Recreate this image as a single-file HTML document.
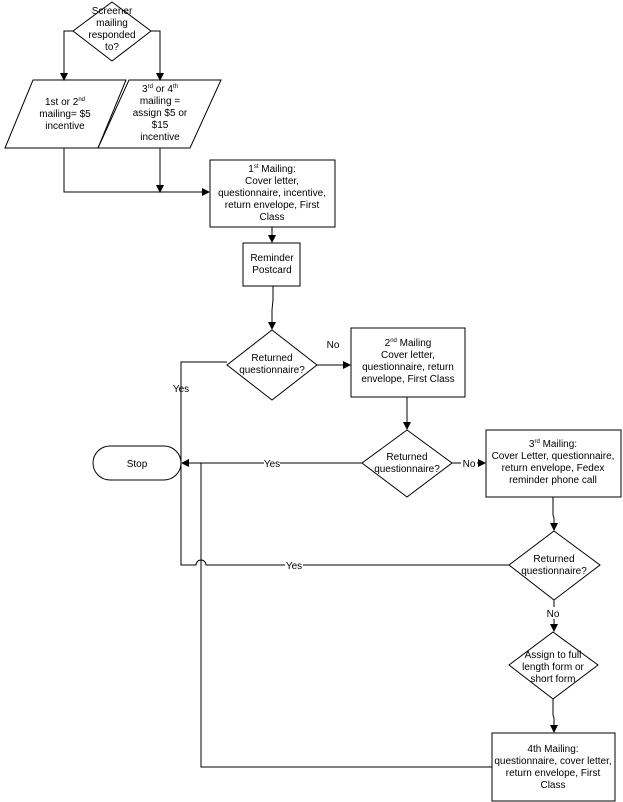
<!DOCTYPE html>
<html><head><style>body{margin:0;background:#fff}svg{display:block}text{font-family:"Liberation Sans",sans-serif;font-size:10px;fill:#000}</style></head>
<body>
<svg width="623" height="802" viewBox="0 0 623 802" xmlns="http://www.w3.org/2000/svg">
<defs><marker id="a" markerWidth="8" markerHeight="8" refX="7" refY="4" orient="auto" markerUnits="userSpaceOnUse"><path d="M0,0 L8,4 L0,8z" fill="#000"/></marker></defs>
<g fill="none" stroke="#000" stroke-width="1">
<polygon points="112,2 151,31 112,61 73,31" fill="#fff"/>
<polyline points="73,31 64,31 64,80" marker-end="url(#a)"/>
<polyline points="151,31 160,31 160,80" marker-end="url(#a)"/>
<polygon points="33,80 126,80 98,148 5,148"/>
<polygon points="129,80 221,80 190,148 98,148"/>
<polyline points="64,148 64,192 209,192" marker-end="url(#a)"/>
<line x1="160" y1="148" x2="160" y2="192" marker-end="url(#a)"/>
<rect x="210" y="160" width="125" height="67"/>
<line x1="272" y1="227" x2="272" y2="242" marker-end="url(#a)"/>
<rect x="243" y="243" width="57" height="43"/>
<polyline points="273,286 273,300 272,310 272,329" marker-end="url(#a)"/>
<polygon points="272,330 317,365 272,400 227,365"/>
<line x1="317" y1="365" x2="350" y2="365" marker-end="url(#a)"/>
<rect x="351" y="328" width="114" height="69"/>
<polyline points="227,362 181,362 181,462"/>
<line x1="407" y1="397" x2="407" y2="429" marker-end="url(#a)"/>
<polygon points="407,430 452,463 407,497 362,463"/>
<line x1="362" y1="463" x2="182" y2="463" marker-end="url(#a)"/>
<line x1="452" y1="463" x2="485" y2="463" marker-end="url(#a)"/>
<rect x="486" y="430" width="135" height="67"/>
<path d="M110,446 H164 A17,17 0 0 1 164,480 H110 A17,17 0 0 1 110,446 Z"/>
<polyline points="553,497 553,515 554,518 554,530" marker-end="url(#a)"/>
<polygon points="554,531 600,565 554,600 509,565"/>
<path d="M509,565 H206 A5,5 0 0 0 196,565 H181 V464"/>
<line x1="554" y1="600" x2="554" y2="631" marker-end="url(#a)"/>
<polygon points="553,632 598,665 553,699 509,665"/>
<polyline points="553,699 553,715 554,718 554,732" marker-end="url(#a)"/>
<rect x="492" y="733" width="123" height="68"/>
<polyline points="492,767 201,767 201,463"/>
</g>
<rect x="264" y="457" width="16" height="12" fill="#fff"/>
<rect x="285" y="559" width="18" height="12" fill="#fff"/>
<rect x="461" y="457" width="16" height="12" fill="#fff"/>
<rect x="545" y="607" width="16" height="12" fill="#fff"/>
<g text-anchor="middle">
<text x="112" y="14">Screener</text><text x="112" y="26">mailing</text><text x="112" y="38">responded</text><text x="112" y="50">to?</text>
<text x="65" y="105">1st or 2<tspan font-size="6" dy="-4">nd</tspan></text><text x="65" y="117">mailing= $5</text><text x="65" y="129">incentive</text>
<text x="160" y="92">3<tspan font-size="6" dy="-4">rd</tspan><tspan dy="4"> or 4</tspan><tspan font-size="6" dy="-4">th</tspan></text><text x="160" y="104">mailing =</text><text x="160" y="116">assign $5 or</text><text x="160" y="128">$15</text><text x="160" y="140">incentive</text>
<text x="272" y="172">1<tspan font-size="6" dy="-4">st</tspan><tspan dy="4"> Mailing:</tspan></text><text x="272" y="184">Cover letter,</text><text x="272" y="196">questionnaire, incentive,</text><text x="272" y="208">return envelope, First</text><text x="272" y="220">Class</text>
<text x="272" y="261">Reminder</text><text x="272" y="273">Postcard</text>
<text x="272" y="361">Returned</text><text x="272" y="373">questionnaire?</text>
<text x="333" y="348">No</text>
<text x="408" y="346">2<tspan font-size="6" dy="-4">nd</tspan><tspan dy="4"> Mailing</tspan></text><text x="408" y="358">Cover letter,</text><text x="408" y="370">questionnaire, return</text><text x="408" y="382">envelope, First Class</text>
<text x="181" y="392">Yes</text>
<text x="407" y="460">Returned</text><text x="407" y="472">questionnaire?</text>
<text x="272" y="467">Yes</text>
<text x="469" y="467">No</text>
<text x="553" y="447">3<tspan font-size="6" dy="-4">rd</tspan><tspan dy="4"> Mailing:</tspan></text><text x="553" y="459">Cover Letter, questionnaire,</text><text x="553" y="471">return envelope, Fedex</text><text x="553" y="483">reminder phone call</text>
<text x="137" y="467">Stop</text>
<text x="554" y="562">Returned</text><text x="554" y="574">questionnaire?</text>
<text x="294" y="569">Yes</text>
<text x="553" y="617">No</text>
<text x="553" y="658">Assign to full</text><text x="553" y="670">length form or</text><text x="553" y="682">short form</text>
<text x="553" y="752">4th Mailing:</text><text x="553" y="764">questionnaire, cover letter,</text><text x="553" y="776">return envelope, First</text><text x="553" y="788">Class</text>
</g>
</svg>
</body></html>
